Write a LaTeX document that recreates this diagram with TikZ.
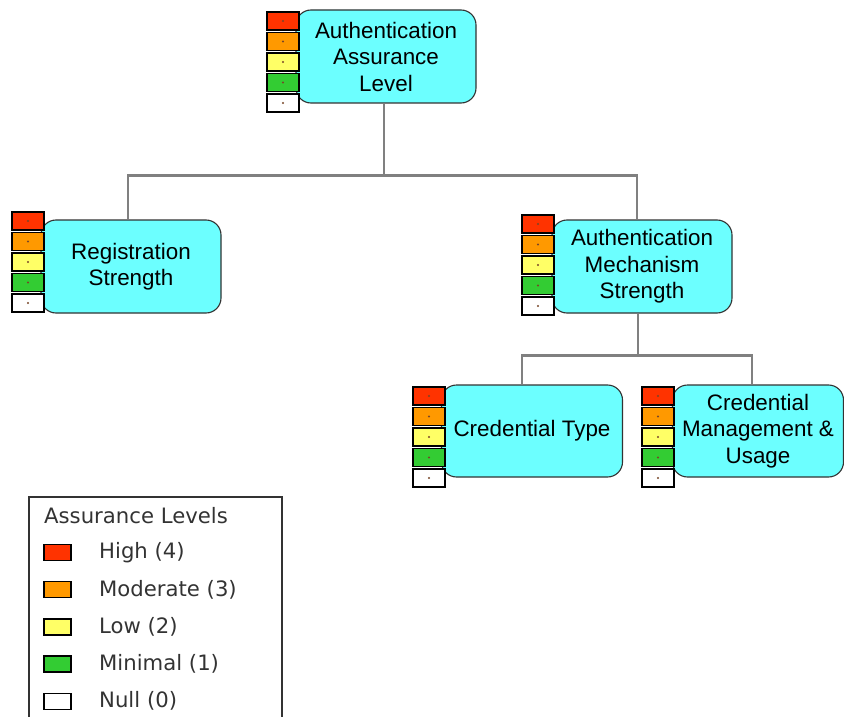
\documentclass[tikz,border=0pt]{standalone}
\usepackage{fontspec}
\setmainfont{Liberation Sans}
\newfontfamily\legendfont{DejaVu Sans}
\definecolor{boxcyan}{RGB}{108,255,255}
\definecolor{lvlhigh}{RGB}{255,51,0}
\definecolor{lvlmod}{RGB}{255,153,0}
\definecolor{lvllow}{RGB}{255,255,102}
\definecolor{lvlmin}{RGB}{51,204,51}
\definecolor{lvldot}{RGB}{120,70,40}
\definecolor{linkgray}{RGB}{128,128,128}
\tikzset{
    factor/.style={draw=black!80, line width=1.1pt, fill=boxcyan, rounded corners=15pt,
        minimum height=93pt, align=center, inner sep=0pt,
        font=\fontsize{22.4}{26.5}\selectfont},
    link/.style={draw=linkgray, line width=2.6pt},
    swatch/.style={draw=black, line width=1.6pt},
    legendtext/.style={anchor=west, text=black!80, inner sep=0pt,
        font=\legendfont\fontsize{21.2}{24}\selectfont}
}
% five level squares, #1 = left, #2 = top
\newcommand{\levelbar}[2]{%
    \foreach \c [count=\i from 0] in {lvlhigh,lvlmod,lvllow,lvlmin,white} {
        \draw[swatch, fill=\c] (#1,#2+\i*20.5) rectangle ++(32,18);
        \fill[lvldot] (#1+16,#2+\i*20.5+9) circle (1.1pt);
    }%
}
\begin{document}
\begin{tikzpicture}[x=1pt, y=-1pt]
    \useasboundingbox (0,0) rectangle (844,717);
    % factors
    \node[factor, minimum width=180pt] (aal) at (386,56.5) {Authentication\\Assurance\\Level};
    \node[factor, minimum width=180pt] (reg) at (131,266.5) {Registration\\Strength};
    \node[factor, minimum width=180pt] (ams) at (642,266.5) {Authentication\\Mechanism\\Strength};
    \node[factor, minimum width=181pt, minimum height=92pt] (ctype) at (532,431) {Credential Type};
    \node[factor, minimum width=171pt, minimum height=92pt] (cmgmt) at (758,431) {Credential\\Management \&\\Usage};
    % tree links
    \draw[link] ([xshift=-2pt]aal.south) -- ++(0,72) -| ([xshift=-3pt]reg.north);
    \draw[link] ([xshift=-2pt]aal.south) -- ++(0,72) -| ([xshift=-5pt]ams.north);
    \draw[link] ([xshift=-4pt]ams.south) -- ++(0,42) -| ([xshift=-10pt]ctype.north);
    \draw[link] ([xshift=-4pt]ams.south) -- ++(0,42) -| ([xshift=-6pt]cmgmt.north);
    % level bars
    \levelbar{267}{12}
    \levelbar{12}{212}
    \levelbar{522}{215}
    \levelbar{413}{387}
    \levelbar{642}{387}
    % legend
    \draw[black!80, line width=1.2pt] (29,497) rectangle (282,740);
    \node[legendtext] (legtitle) at (44,516) {Assurance Levels};
    \foreach \c/\t [count=\i from 0] in {lvlhigh/High (4), lvlmod/Moderate (3), lvllow/Low (2), lvlmin/Minimal (1), white/Null (0)} {
        \draw[swatch, line width=1.3pt, fill=\c] (44,544.5+\i*37.2) rectangle ++(27,16);
        \node[legendtext] at (99,552.5+\i*37.2) {\t};
    }
\end{tikzpicture}
\end{document}
